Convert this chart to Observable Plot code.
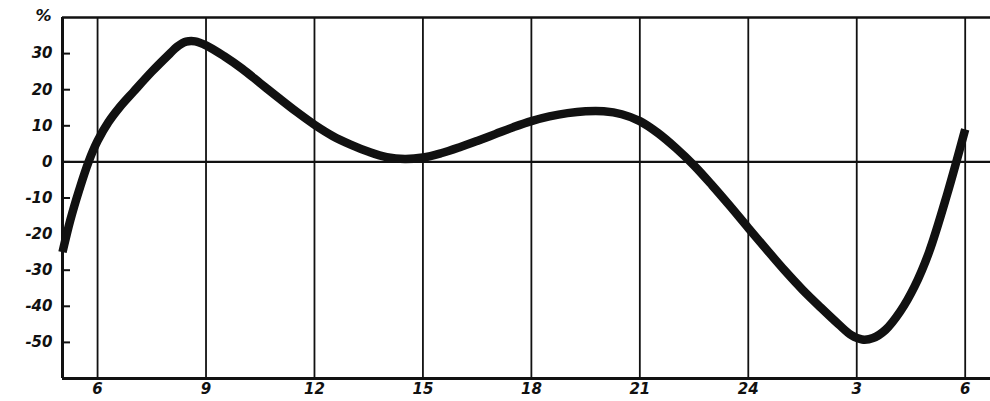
<!DOCTYPE html>
<html>
<head>
<meta charset="utf-8">
<script src="https://cdn.jsdelivr.net/npm/d3@7"></script>
<script src="https://cdn.jsdelivr.net/npm/@observablehq/plot@0.6"></script>
<style>
  html, body { margin: 0; padding: 0; background: #fff; }
  #chart svg { display: block; }
</style>
</head>
<body>
<div id="chart"></div>
<script>
// Hours of the day, counted continuously (27 = 3 h, 30 = 6 h next morning)
const hours = [5.03, 5.25, 5.5, 5.75, 6, 6.3, 6.6, 7, 7.5, 8, 8.2, 8.45, 8.7, 9, 9.5, 10, 10.5, 11, 11.5, 12, 12.5, 13, 13.5, 14, 14.5, 15, 15.5, 16, 16.5, 17, 17.5, 18, 18.5, 19, 19.5, 20, 20.5, 21, 21.5, 22, 22.5, 23, 23.5, 24, 24.5, 25, 25.5, 26, 26.5, 26.85, 27.15, 27.45, 27.8, 28.2, 28.6, 29, 29.5, 30];
const values = [-25, -16, -7.5, 0, 5.8, 11, 15, 19.5, 25, 30, 31.9, 33.3, 33.4, 32.3, 29.3, 25.8, 21.8, 17.8, 13.9, 10.3, 7.2, 4.8, 2.8, 1.3, 0.8, 1.2, 2.4, 4, 5.8, 7.7, 9.6, 11.3, 12.6, 13.5, 14, 14, 13.2, 11.3, 8, 3.8, -1, -6.5, -12.3, -18.3, -24.2, -30, -35.4, -40.3, -45, -48, -49.2, -48.8, -46.5, -41.5, -34.5, -25, -9, 9];

const xTicks = [6, 9, 12, 15, 18, 21, 24, 27, 30];
const xTickLabels = ["6", "9", "12", "15", "18", "21", "24", "3", "6"];
const yTicks = [30, 20, 10, 0, -10, -20, -30, -40, -50];
const yTickLabels = ["30", "20", "10", "0", "-10", "-20", "-30", "-40", "-50"];
const xDomain = [5.03, 30.7];
const yDomain = [-60, 40];
const unitLabel = "%";

const data = hours.map((h, i) => ({hour: h, value: values[i]}));
const font = "'DejaVu Sans', sans-serif";

const chart = Plot.plot({
  width: 990,
  height: 401,
  marginLeft: 62,
  marginRight: 0,
  marginTop: 17,
  marginBottom: 23,
  style: {background: "#fff", fontFamily: font, fontSize: "14px", fontWeight: "bold", fontStyle: "italic", color: "#111"},
  x: {domain: xDomain},
  y: {domain: yDomain},
  marks: [
    // vertical grid lines
    Plot.ruleX(xTicks, {stroke: "#111", strokeWidth: 1.8}),
    // zero line
    Plot.ruleY([0], {stroke: "#111", strokeWidth: 2.2}),
    // frame: top, bottom, left
    Plot.ruleY([yDomain[1]], {stroke: "#111", strokeWidth: 2.5}),
    Plot.ruleY([yDomain[0]], {stroke: "#111", strokeWidth: 3}),
    Plot.ruleX([xDomain[0]], {stroke: "#111", strokeWidth: 3}),
    // y ticks inward
    Plot.axisY({ticks: yTicks, tickSize: -8, text: null, stroke: "#111", strokeWidth: 2, label: null}),
    Plot.axisY({ticks: yTicks, tickSize: 0, tickPadding: 10, label: null,
      tickFormat: d => yTickLabels[yTicks.indexOf(d)],
      fontSize: 15, fill: "#111"}),
    Plot.axisX({ticks: xTicks, tickSize: 0, tickPadding: 5, label: null,
      tickFormat: d => xTickLabels[xTicks.indexOf(d)],
      fontSize: 15, fill: "#111"}),
    // unit label
    Plot.text([unitLabel], {frameAnchor: "top-left", dx: -19, dy: -8, fontSize: 16, fill: "#111", textAnchor: "middle"}),
    // curve
    Plot.line(data, {x: "hour", y: "value", curve: "catmull-rom", stroke: "#111", strokeWidth: 8.5, strokeLinecap: "butt", strokeLinejoin: "round"})
  ]
});
document.getElementById("chart").append(chart);
</script>
</body>
</html>
